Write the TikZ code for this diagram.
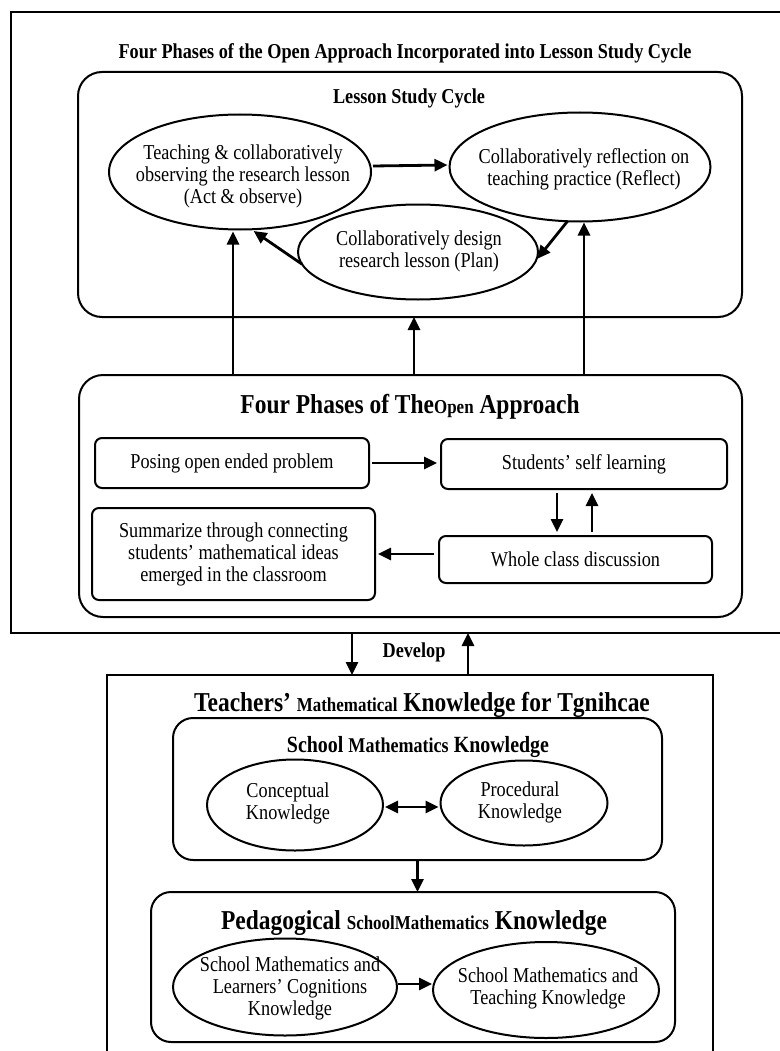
\documentclass[tikz,border=0pt]{standalone}
\usepackage{fontspec}
\setmainfont{Liberation Serif}[FakeStretch=0.86]
\usetikzlibrary{arrows.meta,shapes.geometric,calc}
\newcommand\HBig{\fontsize{27.3}{29}\selectfont}
\newcommand\HSmall{\fontsize{19.7}{21}\selectfont}
\begin{document}
\begin{tikzpicture}[x=1pt,y=-1pt,
  every node/.style={inner sep=0pt, outer sep=0pt},
  bodyfont/.style={font=\fontsize{21.2}{22}\selectfont},
  txt/.style={bodyfont, align=center},
  ellshape/.style={draw, ellipse, line width=2pt},
  pbox/.style={draw, rounded corners=7pt, line width=2pt, align=center, bodyfont},
  bigbox/.style={draw, rounded corners=24pt, line width=2pt, anchor=north west},
  sqbox/.style={draw, line width=2pt, anchor=north west},
  arr/.style={line width=2.8pt, -{Triangle[length=13pt,width=12pt]}},
  dbl/.style={line width=2.8pt, {Triangle[length=13pt,width=12pt]}-{Triangle[length=13pt,width=12pt]}},
  lbl/.style={font=\bfseries\fontsize{21.2}{22}\selectfont},
]
\useasboundingbox (0,0) rectangle (779,1051);
\fill[white] (0,0) rectangle (779,1051);

% outer frame
\node[sqbox, minimum width=779, minimum height=621] (outer) at (11,12) {};
\node[lbl] (title) at (405,53) {Four Phases of the Open Approach Incorporated into Lesson Study Cycle};

% Lesson Study Cycle
\node[bigbox, minimum width=664, minimum height=245] (lsc) at (78,72) {};
\node[lbl] (lsch) at (409,98) {Lesson Study Cycle};
\node[ellshape, minimum width=262, minimum height=115] (e1) at (240,172) {};
\node[txt] (e1t) at (243,176) {Teaching \& collaboratively\\observing the research lesson\\(Act \& observe)};
\node[ellshape, minimum width=261, minimum height=109] (e2) at (580,167) {};
\node[txt] (e2t) at (584,169) {Collaboratively reflection on\\teaching practice (Reflect)};
\node[ellshape, minimum width=240, minimum height=95] (e3) at (418,252) {};
\node[txt] (e3t) at (419,251) {Collaboratively design\\research lesson (Plan)};

\draw[arr] ($(e1.east)+(2,-6)$) -- ($(e2.west)+(-2,-2)$);
\draw[arr, shorten >=2pt] (e2.257) -- (e3.356);
\draw[arr, shorten >=3pt] (e3.186) -- (e1.281);

% Four phases
\node[bigbox, minimum width=663, minimum height=242] (fp) at (79,375) {};
\node (fph) at (410,407) {\bfseries\HBig Four Phases of The\HSmall Open\HBig{} Approach};
\node[pbox, minimum width=274, minimum height=50] (pos) at (232,463) {Posing open ended problem};
\node[pbox, minimum width=286, minimum height=50] (stu) at (584,464) {Students’ self learning};
\node[pbox, minimum width=283, minimum height=92] (sum) at (233.5,554) {Summarize through connecting\\students’ mathematical ideas\\emerged in the classroom};
\node[pbox, minimum width=273, minimum height=47] (who) at (575.5,559.5) {Whole class discussion};

\draw[arr, shorten <=3pt, shorten >=4pt] (pos.east) -- (pos.east -| stu.west);
\coordinate (v1) at (557,0);
\coordinate (v2) at (592,0);
\draw[arr, shorten <=4pt, shorten >=4pt] (v1 |- stu.south) -- (v1 |- who.north);
\draw[arr, shorten <=4pt, shorten >=4pt] (v2 |- who.north) -- (v2 |- stu.south);
\draw[arr, shorten <=5pt, shorten >=3pt] (who.west |- sum.east) -- (sum.east);

% arrows from four phases to lesson study cycle
\coordinate (u1) at (233,0);
\coordinate (u2) at (414,0);
\coordinate (u3) at (584,0);
\draw[arr, shorten >=2pt] (u1 |- fp.north) -- (u1 |- e1.south);
\draw[arr] (u2 |- fp.north) -- (u2 |- lsc.south);
\draw[arr, shorten >=1pt] (u3 |- fp.north) -- (u3 |- e2.south);

% bottom frame
\node[sqbox, minimum width=606, minimum height=400] (bot) at (107,675) {};
\coordinate (d1) at (352,0);
\coordinate (d2) at (468,0);
\draw[arr] (d1 |- outer.south) -- (d1 |- bot.north);
\draw[arr] (d2 |- bot.north) -- (d2 |- outer.south);
\node[lbl] (dev) at (414,652) {Develop};
\node (toph) at (422,705) {\bfseries\HBig Teachers’ \HSmall Mathematical\HBig{} Knowledge for Tgnihcae};

% School Mathematics Knowledge
\node[bigbox, rounded corners=20pt, minimum width=489, minimum height=142] (smk) at (173,718) {};
\node (smkh) at (418,747) {\bfseries\fontsize{23.2}{24}\selectfont School \fontsize{21}{22}\selectfont Mathematics\fontsize{23.2}{24}\selectfont{} Knowledge};
\node[ellshape, minimum width=176, minimum height=91] (con) at (295,805) {};
\node[txt] (cont) at (288,803) {Conceptual\\Knowledge};
\node[ellshape, minimum width=167, minimum height=85] (pro) at (524,803) {};
\node[txt] (prot) at (520,802) {Procedural\\Knowledge};
\draw[dbl, shorten <=2pt, shorten >=2pt] ($(con.east)+(0,2)$) -- ($(pro.west)+(0,4)$);

% Pedagogical School Mathematics Knowledge
\node[bigbox, rounded corners=20pt, minimum width=524, minimum height=150] (psmk) at (151,892) {};
\draw[arr] (smk.south) -- (smk.south |- psmk.north);
\node (psmkh) at (414,923) {\bfseries\HBig Pedagogical \HSmall SchoolMathematics\HBig{} Knowledge};
\node[ellshape, minimum width=224, minimum height=97] (el) at (285,987) {};
\node[txt] (elt) at (290,988) {School Mathematics and\\Learners’ Cognitions\\Knowledge};
\node[ellshape, minimum width=226, minimum height=96] (er) at (546,990) {};
\node[txt] (ert) at (548,988) {School Mathematics and\\Teaching Knowledge};
\draw[arr, shorten <=1pt, shorten >=1pt] ($(el.east)+(0,-3)$) -- ($(er.west)+(0,-6)$);
\end{tikzpicture}
\end{document}
